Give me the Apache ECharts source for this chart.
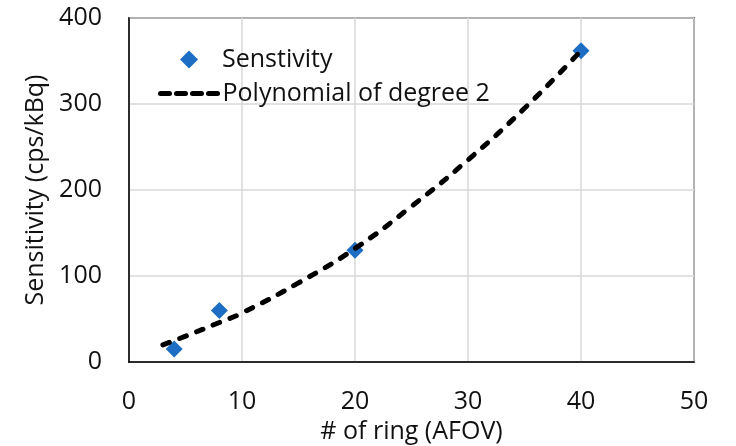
<!DOCTYPE html>
<html>
<head>
<meta charset="utf-8">
<script src="https://cdn.jsdelivr.net/npm/echarts@6/dist/echarts.min.js"></script>
<style>html,body{margin:0;padding:0;background:#fff}#c{width:736px;height:446px}</style>
</head>
<body>
<div id="c"></div>
<script>
var ringX = [4, 8, 20, 40];
var sensY = [15, 60, 130, 362];
var fitX = [3, 5, 8, 10, 15, 20, 25, 30, 35, 40];
var fitY = [20, 30, 46, 57, 92, 132, 181, 235, 295, 362];
var xTicks = [0, 10, 20, 30, 40, 50];
var yTicks = [0, 100, 200, 300, 400];

var FONT = 'Open Sans';
var FS = 25;
var TXT = '#111';
var chart = echarts.init(document.getElementById('c'));
chart.setOption({
  animation: false,
  textStyle: {fontFamily: FONT},
  grid: {left: 129, right: 42, top: 18, bottom: 84, outerBoundsMode: 'none', containLabel: false,
         show: true, borderColor: '#000', borderWidth: 1.5, backgroundColor: 'transparent'},
  legend: [
    {
      orient: 'vertical', left: 175, top: 42, itemWidth: 18, itemHeight: 18,
      textStyle: {fontFamily: FONT, fontSize: FS, color: TXT, padding: [0, 0, 0, 19]},
      data: [{name: 'Senstivity', icon: 'diamond', itemStyle: {color: '#1E6DC4', opacity: 1}}]
    },
    {
      orient: 'vertical', left: 153, top: 76, itemWidth: 57, itemHeight: 16,
      textStyle: {fontFamily: FONT, fontSize: FS, color: TXT},
      data: [{name: 'Polynomial of degree 2', itemStyle: {opacity: 0},
              lineStyle: {color: '#000', width: 5, type: [9, 7], cap: 'round'}}]
    }
  ],
  xAxis: {
    type: 'value', min: xTicks[0], max: xTicks[xTicks.length - 1], interval: 10,
    name: '# of ring (AFOV)', nameLocation: 'middle', nameGap: 56,
    nameTextStyle: {fontSize: FS, color: TXT, fontFamily: FONT},
    axisLine: {show: true, lineStyle: {color: '#000', width: 1.5}},
    axisTick: {show: false},
    axisLabel: {fontSize: FS, color: TXT, margin: 27, fontFamily: FONT},
    splitLine: {show: true, lineStyle: {color: '#d9d9d9', width: 1.5}}
  },
  yAxis: {
    type: 'value', min: yTicks[0], max: yTicks[yTicks.length - 1], interval: 100,
    name: 'Sensitivity (cps/kBq)', nameLocation: 'middle', nameGap: 79, nameRotate: 90,
    nameTextStyle: {fontSize: FS, color: TXT, fontFamily: FONT},
    axisLine: {show: true, lineStyle: {color: '#000', width: 1.5}},
    axisTick: {show: false},
    axisLabel: {fontSize: FS, color: TXT, margin: 27, fontFamily: FONT},
    splitLine: {show: true, lineStyle: {color: '#d9d9d9', width: 1.5}}
  },
  series: [
    {
      name: 'Senstivity', type: 'scatter', symbol: 'diamond', symbolSize: 17,
      itemStyle: {color: '#1E6DC4', opacity: 1},
      data: ringX.map(function (x, i) { return [x, sensY[i]]; }),
      z: 3
    },
    {
      name: 'Polynomial of degree 2', type: 'line', smooth: true, showSymbol: false, symbol: 'none',
      lineStyle: {color: '#000', width: 5, type: [7, 11], cap: 'round'},
      itemStyle: {color: '#000'},
      data: fitX.map(function (x, i) { return [x, fitY[i]]; }),
      z: 4
    }
  ]
});
</script>
</body>
</html>
